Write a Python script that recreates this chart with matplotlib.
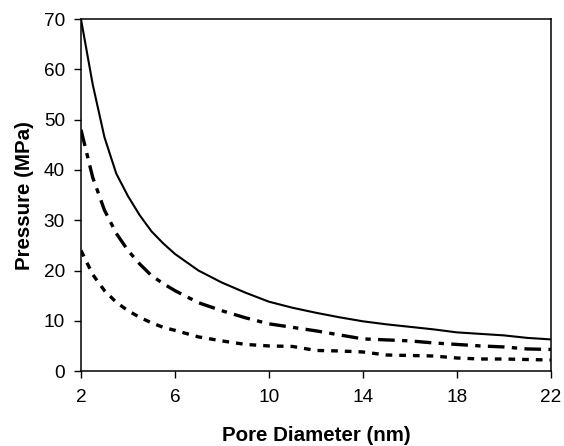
import matplotlib
matplotlib.use("Agg")
import matplotlib.pyplot as plt

plt.rcParams["font.family"] = ["Liberation Sans", "DejaVu Sans"]

# Pore diameter (nm) and pressure readings (MPa) for the three curves
diameter = [2, 2.5, 3, 3.5, 4, 4.5, 5, 5.5, 6, 7, 8, 9, 10, 11, 12, 13, 14, 15, 16,
            17, 18, 19, 20, 21, 22]
p_solid = [70, 57.0, 46.5, 39.3, 34.8, 31.0, 27.8, 25.4, 23.3, 20.0, 17.6, 15.6, 13.8,
           12.6, 11.6, 10.7, 9.9, 9.3, 8.8, 8.3, 7.7, 7.4, 7.1, 6.6, 6.3]
p_dashdot = [48, 38.5, 32.0, 27.4, 24.0, 21.3, 19.0, 17.4, 16.0, 13.6, 12.0, 10.6, 9.4,
             8.7, 8.0, 7.2, 6.4, 6.2, 6.0, 5.6, 5.3, 5.0, 4.8, 4.4, 4.3]
p_dotted = [24, 19.2, 16.0, 13.7, 12.0, 10.7, 9.6, 8.7, 8.1, 6.8, 6.0, 5.3, 5.0,
            4.9, 4.1, 4.0, 3.8, 3.2, 3.1, 3.0, 2.6, 2.4, 2.4, 2.3, 2.2]

x_ticks = [2, 6, 10, 14, 18, 22]
y_ticks = [0, 10, 20, 30, 40, 50, 60, 70]

fig = plt.figure(figsize=(5.64, 4.46), dpi=100)
ax = fig.add_axes([0.1436, 0.168, 0.833, 0.789])

ax.plot(diameter, p_solid, color="black", linewidth=1.5, linestyle="-")
ax.plot(diameter, p_dashdot, color="black", linewidth=2.4,
        linestyle=(0, (5, 2.2, 1.6, 2.2)))
ax.plot(diameter, p_dotted, color="black", linewidth=2.4,
        linestyle=(0, (2, 2.1)))

ax.set_xlim(2, 22)
ax.set_ylim(0, 70)
ax.set_xticks(x_ticks)
ax.set_yticks(y_ticks)
ax.tick_params(direction="out", length=5, width=1, labelsize=13.7,
               top=False, right=False)
ax.tick_params(axis="x", pad=8)
ax.tick_params(axis="y", pad=6.5)

for s in ax.spines.values():
    s.set_linewidth(1.1)

ax.set_xlabel("Pore Diameter (nm)", fontsize=14.8, fontweight="bold", labelpad=14)
ax.set_ylabel("Pressure (MPa)", fontsize=14.8, fontweight="bold", labelpad=7)

fig.savefig("out.png", dpi=100)
